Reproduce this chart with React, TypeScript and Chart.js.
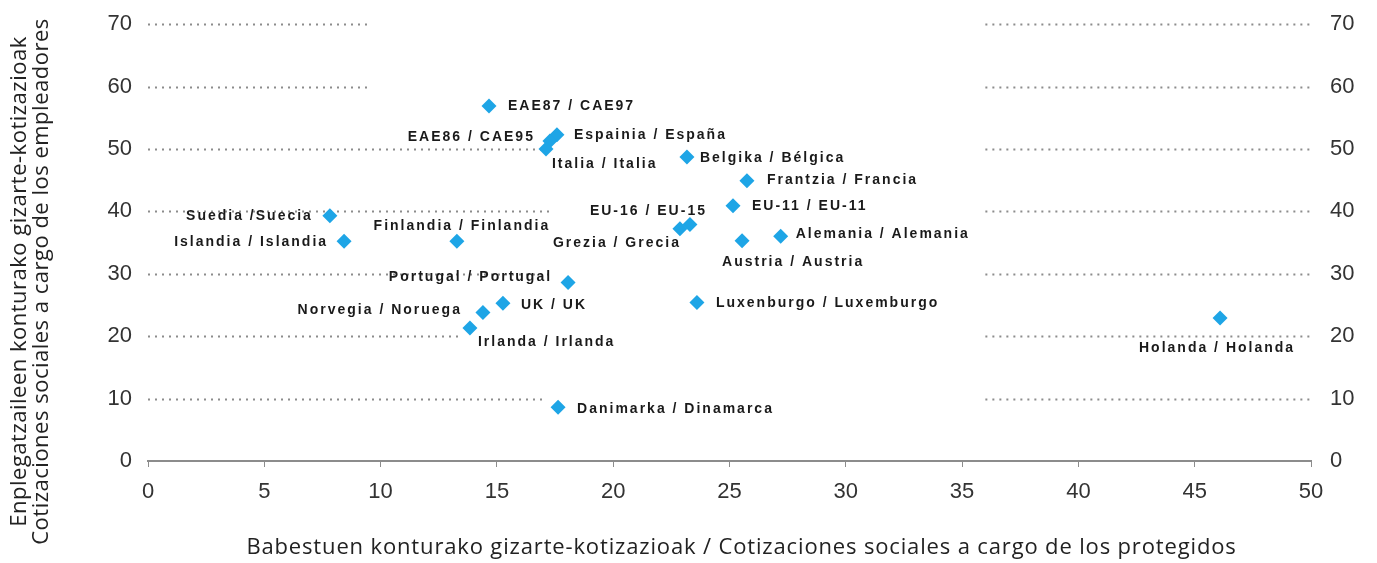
import React, { useEffect, useRef } from "react";
import { Chart, registerables } from "chart.js";

Chart.register(...registerables);

// ---- data ----
const countries = [
  "EAE87 / CAE97",
  "Espainia / España",
  "EAE86 / CAE95",
  "Italia / Italia",
  "Belgika / Bélgica",
  "Frantzia / Francia",
  "EU-11 / EU-11",
  "EU-16 / EU-15",
  "Grezia / Grecia",
  "Austria / Austria",
  "Alemania / Alemania",
  "Suedia /Suecia",
  "Islandia / Islandia",
  "Finlandia / Finlandia",
  "Portugal / Portugal",
  "UK / UK",
  "Norvegia / Noruega",
  "Irlanda / Irlanda",
  "Luxenburgo / Luxemburgo",
  "Holanda / Holanda",
  "Danimarka / Dinamarca",
];
// Babestuen konturako gizarte-kotizazioak (x)
const protegidos = [
  14.66, 17.58, 17.28, 17.11, 23.17, 25.75, 25.15, 23.3, 22.87, 25.54, 27.2,
  7.82, 8.43, 13.28, 18.06, 15.26, 14.4, 13.84, 23.6, 46.09, 17.63,
];
// Enplegatzaileen konturako gizarte-kotizazioak (y)
const empleadores = [
  56.9, 52.3, 51.3, 50.0, 48.7, 44.9, 40.9, 37.9, 37.2, 35.3, 36.0,
  39.3, 35.2, 35.2, 28.6, 25.3, 23.8, 21.3, 25.4, 22.9, 8.6,
];
const xTicks = [0, 5, 10, 15, 20, 25, 30, 35, 40, 45, 50];
const yTicks = [0, 10, 20, 30, 40, 50, 60, 70];
// dotted gridlines are interrupted in the middle of the plot (x units)
const gridLevels = [10, 20, 30, 40, 50, 60, 70];
const gridLeftEnd = [17.1, 13.4, 17.3, 17.3, 17.3, 9.5, 9.5];
const gridRightStart = [36, 36, 36, 36, 36, 36, 36];

const xTitle =
  "Babestuen konturako gizarte-kotizazioak / Cotizaciones sociales a cargo de los protegidos";
const yTitleLines = [
  "Enplegatzaileen konturako gizarte-kotizazioak",
  "Cotizaciones sociales a cargo de los empleadores",
];

// label placement relative to marker: [dx, dy, align]
const labelPlacement: [number, number, CanvasTextAlign][] = [
  [19, 0, "left"],
  [17, 0, "left"],
  [-15, -4, "right"],
  [6, 15, "left"],
  [13, 1, "left"],
  [20, -1, "left"],
  [19, 0, "left"],
  [17, -13, "right"],
  [1, 14, "right"],
  [-20, 21, "left"],
  [15, -2, "left"],
  [-17, 0, "right"],
  [-16, 1, "right"],
  [5, -15, "center"],
  [-16, -5, "right"],
  [18, 2, "left"],
  [-21, -2, "right"],
  [8, 14, "left"],
  [19, 1, "left"],
  [-3, 30, "center"],
  [19, 2, "left"],
];

const BLUE = "#1ea5e6";
const GRID = "#8c8c8c";
const TICK_FONT = "'Liberation Sans Narrow', 'Liberation Sans', Arial, sans-serif";
const TITLE_FONT = "'Open Sans', 'Noto Sans', sans-serif";

const setSpacing = (ctx: any, v: string) => {
  try {
    ctx.letterSpacing = v;
  } catch (e) {}
};

const gridPlugin = {
  id: "segGrid",
  beforeDatasetsDraw(chart: any) {
    const { ctx, scales } = chart;
    const x = scales.x;
    const y = scales.y;
    ctx.save();
    ctx.strokeStyle = GRID;
    ctx.lineWidth = 2;
    ctx.setLineDash([2, 5]);
    gridLevels.forEach((lv, i) => {
      const py = Math.round(y.getPixelForValue(lv)) + 0.5;
      const segs = [
        [0, gridLeftEnd[i]],
        [gridRightStart[i], 50],
      ];
      segs.forEach(([a, b]) => {
        ctx.beginPath();
        ctx.moveTo(x.getPixelForValue(a), py);
        ctx.lineTo(x.getPixelForValue(b), py);
        ctx.stroke();
      });
    });
    ctx.restore();
  },
};

const labelPlugin = {
  id: "pointLabels",
  afterDatasetsDraw(chart: any) {
    const { ctx } = chart;
    const meta = chart.getDatasetMeta(0);
    ctx.save();
    ctx.font = "bold 14px 'Liberation Sans', Arial, sans-serif";
    setSpacing(ctx, "2px");
    ctx.fillStyle = "#1a1a1a";
    ctx.textBaseline = "middle";
    meta.data.forEach((pt: any, i: number) => {
      const [dx, dy, align] = labelPlacement[i];
      ctx.textAlign = align;
      ctx.fillText(countries[i], pt.x + dx, pt.y + dy);
    });
    ctx.restore();
  },
};

const titlePlugin = {
  id: "axisTitles",
  afterDraw(chart: any) {
    const { ctx, chartArea } = chart;
    ctx.save();
    ctx.fillStyle = "#222";
    ctx.textAlign = "center";
    ctx.textBaseline = "middle";
    // x title
    ctx.font = `22px ${TITLE_FONT}`;
    setSpacing(ctx, "0.85px");
    ctx.fillText(xTitle, (chartArea.left + chartArea.right) / 2 + 12, chart.height - 15);
    // y title
    ctx.translate(20, chart.height / 2);
    ctx.rotate(-Math.PI / 2);
    setSpacing(ctx, "0.5px");
    yTitleLines.forEach((l, i) => ctx.fillText(l, 0, i * 22));
    ctx.restore();
  },
};

export default function App() {
  const ref = useRef<HTMLCanvasElement | null>(null);

  useEffect(() => {
    document.body.style.margin = "0";
    const canvas = ref.current;
    if (!canvas) return;
    const points = protegidos.map((v, i) => ({ x: v, y: empleadores[i] }));
    const yScale = (pos: "left" | "right", width: number, pad: number) => ({
      type: "linear" as const,
      position: pos,
      min: 0,
      max: 70,
      afterBuildTicks: (s: any) => {
        s.ticks = yTicks.map((v) => ({ value: v }));
      },
      ticks: {
        font: { family: TICK_FONT, size: 22 },
        color: "#333",
        padding: pad,
      },
      grid: { display: false },
      border: { display: false },
      afterFit: (s: any) => {
        s.width = width;
      },
    });
    const chart = new Chart(canvas, {
      type: "scatter",
      data: {
        datasets: [
          {
            data: points,
            pointStyle: "rectRot",
            pointRadius: 7.5,
            pointBackgroundColor: BLUE,
            pointBorderColor: BLUE,
            pointBorderWidth: 0,
          },
        ],
      },
      options: {
        animation: false,
        responsive: false,
        maintainAspectRatio: false,
        layout: { padding: { top: 15, left: 0, right: 0, bottom: 0 } },
        plugins: { legend: { display: false }, tooltip: { enabled: false } },
        scales: {
          x: {
            type: "linear",
            position: "bottom",
            min: 0,
            max: 50,
            afterBuildTicks: (s: any) => {
              s.ticks = xTicks.map((v) => ({ value: v }));
            },
            ticks: {
              font: { family: TICK_FONT, size: 22 },
              color: "#333",
              padding: 12,
              maxRotation: 0,
              autoSkip: false,
            },
            grid: {
              display: true,
              drawOnChartArea: false,
              drawTicks: true,
              tickLength: 6,
              color: GRID,
              lineWidth: 1,
            },
            border: { display: true, color: GRID, width: 2 },
            afterFit: (s: any) => {
              s.height = 102;
            },
          },
          y: yScale("left", 148, 8),
          y2: yScale("right", 66, 11),
        },
      },
      plugins: [gridPlugin, labelPlugin, titlePlugin],
    });
    return () => chart.destroy();
  }, []);

  return (
    <div style={{ width: 1377, height: 563 }}>
      <canvas ref={ref} width={1377} height={563} style={{ display: "block" }} />
    </div>
  );
}
